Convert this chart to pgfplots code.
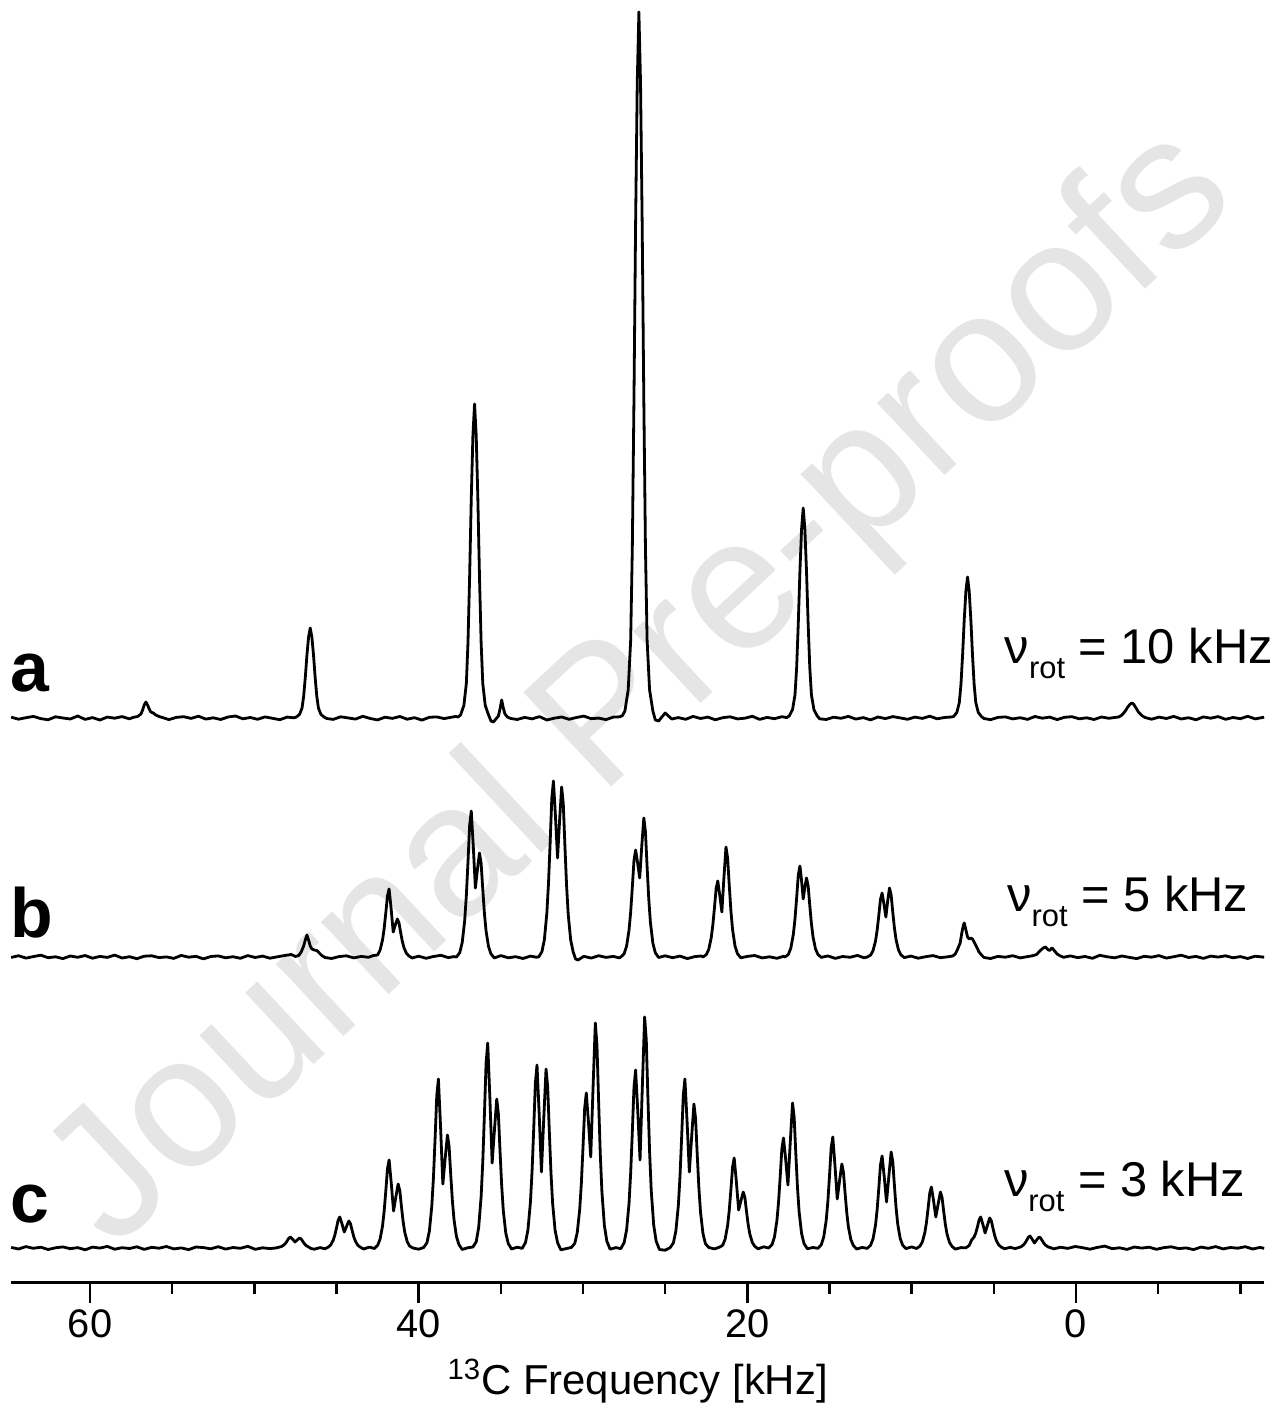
\documentclass[border=0pt]{standalone}
\usepackage{fontspec}
\setmainfont{Liberation Sans}
\usepackage{pgfplots}
\usepackage{pgfplotstable}
\pgfplotsset{compat=1.18}

% spectra: frequency [kHz], intensity (picture units above each trace's baseline)
\pgfplotstableread[row sep=\\]{
x y\\
64.8 0.8\\ 64.35 -1.2\\ 63.9 0.3\\ 63.45 1.6\\ 63.0 -0.6\\ 62.55 -1.8\\ 62.1 1.2\\ 61.65 0.0\\ 61.2 -1.0\\ 60.75 2.0\\
60.3 -1.4\\ 59.85 0.4\\ 59.4 -2.0\\ 58.95 0.9\\ 58.5 -0.2\\ 58.05 1.4\\ 57.6 -0.9\\
57.4 0.5\\ 57.1 1.5\\ 56.9 4\\ 56.8 8\\ 56.7 13\\ 56.6 16\\ 56.5 13\\ 56.4 9\\ 56.3 6\\ 56.15 5\\ 56.0 3\\ 55.8 1.5\\ 55.6 0.5\\
55.2 -1.6\\ 54.75 0.6\\ 54.3 1.3\\ 53.85 -0.4\\ 53.4 1.8\\ 52.95 -1.1\\ 52.5 0.2\\ 52.05 -1.5\\ 51.6 1.0\\ 51.15 2.0\\
50.7 -0.8\\ 50.25 0.5\\ 49.8 -1.3\\ 49.35 1.1\\ 48.9 -0.3\\ 48.45 -1.7\\ 48.0 0.9\\ 47.6 0.2\\
47.45 0.9\\ 47.25 3.6\\ 47.1 9.9\\ 47.0 21.6\\ 46.9 40.5\\ 46.8 63\\ 46.7 81\\ 46.6 90\\ 46.5 81\\ 46.4 63\\ 46.3 40.5\\ 46.2 21.6\\ 46.1 9.9\\ 45.95 3.6\\ 45.75 0.9\\ 45.6 -0.5\\
45.2 -1.4\\ 44.75 1.2\\ 44.3 0.1\\ 43.85 -1.1\\ 43.4 1.7\\ 42.95 -0.5\\ 42.5 -1.9\\ 42.05 0.8\\ 41.6 -0.4\\ 41.15 1.5\\
40.7 -1.2\\ 40.25 0.3\\ 39.8 -2.1\\ 39.35 0.7\\ 38.9 1.1\\ 38.45 -0.6\\ 38.0 0.8\\ 37.75 1.5\\
37.6 1\\ 37.45 3.1\\ 37.25 12.6\\ 37.1 34.5\\ 37.0 75.4\\ 36.9 141.3\\ 36.8 219.8\\ 36.7 282.6\\ 36.6 314\\ 36.5 282.6\\ 36.4 219.8\\ 36.3 141.3\\ 36.2 75.4\\ 36.1 34.5\\ 35.95 12.6\\ 35.75 3.1\\ 35.6 -3\\
35.45 -4\\ 35.3 -1\\ 35.15 2\\ 35.05 9\\ 34.95 18\\ 34.85 10\\ 34.75 4\\ 34.6 1\\ 34.4 -0.5\\
34.0 -1.5\\ 33.55 0.6\\ 33.1 -0.9\\ 32.65 1.4\\ 32.2 -2.0\\ 31.75 -0.2\\ 31.3 1.0\\ 30.85 -1.3\\ 30.4 0.5\\ 29.95 1.9\\
29.5 -0.7\\ 29.05 -0.1\\ 28.6 -1.6\\ 28.15 0.9\\ 27.75 1.2\\
27.6 2.5\\ 27.45 7.1\\ 27.25 28.2\\ 27.1 77.7\\ 27.0 169.4\\ 26.9 317.7\\ 26.8 494.2\\ 26.7 635.4\\ 26.6 706\\ 26.5 635.4\\ 26.4 494.2\\ 26.3 317.7\\ 26.2 169.4\\ 26.1 77.7\\ 25.95 28.2\\ 25.75 7.1\\
25.6 -2\\ 25.4 -3\\ 25.2 1\\ 25.0 5\\ 24.8 2\\ 24.6 -1\\
24.2 0.4\\ 23.75 -1.3\\ 23.3 1.6\\ 22.85 -0.5\\ 22.4 0.9\\ 21.95 -1.8\\ 21.5 0.3\\ 21.05 1.2\\ 20.6 -0.9\\ 20.15 -0.2\\
19.7 1.7\\ 19.25 -1.4\\ 18.8 0.6\\ 18.35 -0.7\\ 17.9 1.3\\ 17.6 0.4\\
17.45 2.1\\ 17.25 8.4\\ 17.1 23.1\\ 17.0 50.4\\ 16.9 94.5\\ 16.8 147\\ 16.7 189\\ 16.6 210\\ 16.5 189\\ 16.4 147\\ 16.3 94.5\\ 16.2 50.4\\ 16.1 23.1\\ 15.95 8.4\\ 15.75 2.1\\ 15.6 -0.8\\
15.2 -1.5\\ 14.75 0.8\\ 14.3 -0.3\\ 13.85 1.6\\ 13.4 -1.1\\ 12.95 0.4\\ 12.5 -1.9\\ 12.05 1.0\\ 11.6 -0.6\\ 11.15 1.4\\
10.7 0.1\\ 10.25 -1.3\\ 9.8 0.9\\ 9.35 -0.4\\ 8.9 1.8\\ 8.45 -0.8\\ 8.0 0.5\\ 7.6 1.0\\
7.45 1.4\\ 7.25 5.6\\ 7.1 15.5\\ 7.0 33.8\\ 6.9 63.5\\ 6.8 98.7\\ 6.7 126.9\\ 6.6 141\\ 6.5 126.9\\ 6.4 98.7\\ 6.3 63.5\\ 6.2 33.8\\ 6.1 15.5\\ 5.95 5.6\\ 5.75 1.4\\ 5.6 -0.5\\
5.2 -1.7\\ 4.75 0.6\\ 4.3 1.1\\ 3.85 -0.9\\ 3.4 0.3\\ 2.95 -1.4\\ 2.5 1.5\\ 2.05 -0.2\\ 1.6 0.9\\ 1.15 -1.6\\
0.7 0.7\\ 0.25 1.3\\ -0.2 -0.8\\ -0.65 0.2\\ -1.1 -1.5\\ -1.55 1.0\\ -2.0 -0.3\\ -2.4 0.6\\
-2.6 1\\ -2.8 3\\ -3.0 7\\ -3.15 11\\ -3.3 14\\ -3.4 15\\ -3.5 14\\ -3.65 10\\ -3.8 6\\ -4.0 2.5\\ -4.2 0.5\\
-4.6 -1.2\\ -5.05 0.9\\ -5.5 -0.5\\ -5.95 1.6\\ -6.4 -1.0\\ -6.85 0.3\\ -7.3 -1.8\\ -7.75 1.1\\ -8.2 -0.2\\ -8.65 1.4\\
-9.1 -1.3\\ -9.55 0.5\\ -10.0 -0.7\\ -10.45 1.7\\ -10.9 -0.9\\ -11.45 0.8\\
}\speca

\pgfplotstableread[row sep=\\]{
x y\\
64.8 -0.5\\ 64.35 1.3\\ 63.9 -1.1\\ 63.45 0.4\\ 63.0 1.8\\ 62.55 -0.7\\ 62.1 0.2\\ 61.65 -1.6\\ 61.2 1.0\\ 60.75 -0.3\\
60.3 1.5\\ 59.85 -1.2\\ 59.4 0.6\\ 58.95 -0.4\\ 58.5 1.9\\ 58.05 -1.0\\ 57.6 0.3\\ 57.15 -1.7\\ 56.7 0.8\\ 56.25 1.2\\
55.8 -0.6\\ 55.35 0.1\\ 54.9 -1.4\\ 54.45 1.6\\ 54.0 -0.2\\ 53.55 0.7\\ 53.1 -1.9\\ 52.65 0.5\\ 52.2 1.1\\ 51.75 -0.8\\
51.3 0.3\\ 50.85 -1.3\\ 50.4 1.4\\ 49.95 -0.5\\ 49.5 0.9\\ 49.05 -1.2\\ 48.6 0.2\\ 48.15 1.5\\ 47.75 2.5\\
47.5 0.5\\ 47.3 1.5\\ 47.15 5\\ 47.0 11\\ 46.9 17\\ 46.8 22\\ 46.7 17\\ 46.6 11\\ 46.5 8\\ 46.35 7\\ 46.2 6.5\\ 46.05 4\\ 45.9 1.5\\ 45.7 -0.5\\
45.3 -1.5\\ 44.85 0.4\\ 44.4 1.2\\ 43.95 -0.9\\ 43.5 0.6\\ 43.05 -0.3\\ 42.75 1.5\\
42.5 2\\ 42.35 6.8\\ 42.2 17\\ 42.1 28.6\\ 42.0 44.2\\ 41.9 61.2\\ 41.8 68\\ 41.68 48.7\\ 41.55 25\\ 41.42 32.2\\ 41.3 38\\ 41.2 34.2\\ 41.1 24.7\\ 41.0 16\\ 40.9 9.5\\ 40.75 3.8\\ 40.6 1.1\\ 40.4 -1\\
40.0 0.8\\ 39.55 -1.3\\ 39.1 0.5\\ 38.65 1.7\\ 38.2 -0.6\\ 37.85 0.4\\
37.7 0\\ 37.5 4.4\\ 37.35 14.6\\ 37.2 36.5\\ 37.1 61.3\\ 37.0 94.9\\ 36.9 131.4\\ 36.8 146\\ 36.68 111.4\\ 36.55 69\\ 36.42 88.3\\ 36.3 104\\ 36.2 93.6\\ 36.1 67.6\\ 36.0 43.7\\ 35.9 26\\ 35.75 10.4\\ 35.6 3.1\\ 35.4 -1\\
35.0 1.4\\ 34.55 -0.8\\ 34.1 0.3\\ 33.65 -1.5\\ 33.2 0.9\\ 32.85 -0.2\\
32.7 0\\ 32.5 5.3\\ 32.35 17.6\\ 32.2 44\\ 32.1 73.9\\ 32.0 114.4\\ 31.9 158.4\\ 31.8 176\\ 31.68 141.4\\ 31.55 99\\ 31.42 138\\ 31.3 170\\ 31.2 153\\ 31.1 110.5\\ 31.0 71.4\\ 30.9 42.5\\ 30.75 17\\ 30.6 5.1\\ 30.45 -2\\ 30.3 -3\\
29.95 0.7\\ 29.5 -1.1\\ 29.05 1.3\\ 28.6 -0.4\\ 28.15 0.6\\ 27.8 -0.9\\
27.7 0\\ 27.5 3.2\\ 27.35 10.7\\ 27.2 26.8\\ 27.1 44.9\\ 27.0 69.6\\ 26.9 96.3\\ 26.8 107\\ 26.68 94.4\\ 26.55 79\\ 26.42 112\\ 26.3 139\\ 26.2 125\\ 26.1 90.4\\ 26.0 58.4\\ 25.9 34.8\\ 25.75 13.9\\ 25.6 4.2\\ 25.4 -0.5\\
25.0 1.2\\ 24.55 -0.7\\ 24.1 0.9\\ 23.65 -1.6\\ 23.2 0.4\\ 22.8 1.0\\
22.7 0\\ 22.5 2.3\\ 22.35 7.6\\ 22.2 19\\ 22.1 31.9\\ 22.0 49.4\\ 21.9 68.4\\ 21.8 76\\ 21.68 62\\ 21.55 45\\ 21.42 80.8\\ 21.3 110\\ 21.2 99\\ 21.1 71.5\\ 21.0 46.2\\ 20.9 27.5\\ 20.75 11\\ 20.6 3.3\\ 20.4 -0.8\\
20.0 0.6\\ 19.55 1.5\\ 19.1 -0.9\\ 18.65 0.2\\ 18.2 -1.3\\ 17.8 0.7\\
17.7 0\\ 17.5 2.7\\ 17.35 9.1\\ 17.2 22.8\\ 17.1 38.2\\ 17.0 59.2\\ 16.9 81.9\\ 16.8 91\\ 16.7 76.2\\ 16.6 58\\ 16.5 69.6\\ 16.4 79\\ 16.3 71.1\\ 16.2 51.4\\ 16.1 33.2\\ 16.0 19.8\\ 15.85 7.9\\ 15.7 2.4\\ 15.5 -0.4\\
15.1 1.1\\ 14.65 -1.4\\ 14.2 0.5\\ 13.75 -0.3\\ 13.3 1.6\\ 12.9 -0.8\\
12.7 0\\ 12.5 1.9\\ 12.35 6.4\\ 12.2 16\\ 12.1 26.9\\ 12.0 41.6\\ 11.9 57.6\\ 11.8 64\\ 11.69 53.2\\ 11.57 40\\ 11.46 56\\ 11.35 69\\ 11.25 62.1\\ 11.15 44.9\\ 11.05 29\\ 10.95 17.3\\ 10.8 6.9\\ 10.65 2.1\\ 10.45 -0.6\\
10.05 0.9\\ 9.6 -1.2\\ 9.15 0.3\\ 8.7 1.4\\ 8.25 -0.7\\ 7.8 0.2\\
7.5 1\\ 7.35 3\\ 7.2 8\\ 7.05 14\\ 6.95 24\\ 6.85 32\\ 6.8 34\\ 6.7 27\\ 6.6 20\\ 6.5 18\\ 6.4 19\\ 6.3 18\\ 6.2 15\\ 6.05 10\\ 5.9 5\\ 5.75 2\\ 5.6 -0.5\\
5.2 -1.5\\ 4.75 0.6\\ 4.3 -0.2\\ 3.85 1.3\\ 3.4 -0.9\\ 2.95 0.4\\ 2.65 1.2\\
2.4 2.5\\ 2.2 6\\ 2.0 9\\ 1.85 10\\ 1.72 7.5\\ 1.6 6.5\\ 1.5 8.5\\ 1.45 9\\ 1.3 6\\ 1.15 3\\ 0.95 1\\ 0.75 -0.3\\
0.35 1.1\\ -0.1 -0.6\\ -0.55 0.5\\ -1.0 -1.3\\ -1.45 1.7\\ -1.9 0.2\\ -2.35 -0.8\\ -2.8 1.0\\ -3.25 -0.4\\ -3.7 -1.6\\
-4.15 0.7\\ -4.6 -0.2\\ -5.05 1.4\\ -5.5 -1.1\\ -5.95 0.3\\ -6.4 1.8\\ -6.85 -0.5\\ -7.3 0.6\\ -7.75 -1.4\\ -8.2 0.9\\
-8.65 -0.1\\ -9.1 1.2\\ -9.55 -0.8\\ -10.0 0.4\\ -10.45 -1.5\\ -10.9 0.8\\ -11.45 -0.2\\
}\specb

\pgfplotstableread[row sep=\\]{
x y\\
64.8 0.6\\ 64.35 -1.0\\ 63.9 1.4\\ 63.45 -0.3\\ 63.0 0.8\\ 62.55 -1.5\\ 62.1 0.2\\ 61.65 1.1\\ 61.2 -0.7\\ 60.75 0.4\\
60.3 -1.8\\ 59.85 0.9\\ 59.4 -0.1\\ 58.95 1.6\\ 58.5 -1.2\\ 58.05 0.3\\ 57.6 -0.5\\ 57.15 1.2\\ 56.7 -1.4\\ 56.25 0.7\\
55.8 -0.2\\ 55.35 1.5\\ 54.9 -0.9\\ 54.45 0.1\\ 54.0 -1.6\\ 53.55 1.0\\ 53.1 0.4\\ 52.65 -0.8\\ 52.2 1.3\\ 51.75 -1.1\\
51.3 0.5\\ 50.85 -0.3\\ 50.4 1.7\\ 49.95 -1.3\\ 49.5 0.2\\ 49.05 -0.6\\
48.7 0\\ 48.5 0.8\\ 48.35 1.5\\ 48.2 3\\ 48.1 4.6\\ 48.0 7.2\\ 47.9 9.9\\ 47.8 11\\ 47.67 8.8\\ 47.53 6\\ 47.38 8.2\\ 47.25 10\\ 47.15 9\\ 47.05 6.5\\ 46.95 4.2\\ 46.85 2.5\\ 46.7 1\\ 46.55 -0.5\\ 46.35 -1.2\\
46.0 0.4\\
45.7 -0.8\\ 45.5 0.9\\ 45.35 3.1\\ 45.2 7.8\\ 45.1 13\\ 45.0 20.2\\ 44.9 27.9\\ 44.8 31\\ 44.67 24.3\\ 44.53 16\\ 44.38 22.1\\ 44.25 27\\ 44.15 24.3\\ 44.05 17.6\\ 43.95 11.3\\ 43.85 6.8\\ 43.7 2.7\\ 43.55 0.8\\ 43.35 -1\\
43.0 0.9\\
42.7 -0.5\\ 42.5 2.6\\ 42.35 8.8\\ 42.2 22\\ 42.1 37\\ 42.0 57.2\\ 41.9 79.2\\ 41.8 88\\ 41.67 65.1\\ 41.53 37\\ 41.38 51.9\\ 41.25 64\\ 41.15 57.6\\ 41.05 41.6\\ 40.95 26.9\\ 40.85 16\\ 40.7 6.4\\ 40.55 1.9\\ 40.35 0\\
40.0 -1.2\\
39.7 0.5\\ 39.5 5.1\\ 39.35 16.9\\ 39.2 42.3\\ 39.1 71\\ 39.0 109.9\\ 38.9 152.1\\ 38.8 169\\ 38.67 121.8\\ 38.53 64\\ 38.38 91\\ 38.25 113\\ 38.15 101.7\\ 38.05 73.5\\ 37.95 47.5\\ 37.85 28.3\\ 37.7 11.3\\ 37.55 3.4\\ 37.35 -1.5\\
37.0 0.3\\
36.7 1.0\\ 36.5 6.2\\ 36.35 20.5\\ 36.2 51.3\\ 36.1 86.1\\ 36.0 133.3\\ 35.9 184.5\\ 35.8 205\\ 35.67 151\\ 35.53 85\\ 35.38 120.2\\ 35.25 149\\ 35.15 134.1\\ 35.05 96.9\\ 34.95 62.6\\ 34.85 37.3\\ 34.7 14.9\\ 34.55 4.5\\ 34.35 -1\\
34.0 0.8\\
33.7 -0.4\\ 33.5 5.5\\ 33.35 18.3\\ 33.2 45.8\\ 33.1 76.9\\ 33.0 119\\ 32.9 164.7\\ 32.8 183\\ 32.67 134.9\\ 32.53 76\\ 32.38 132.7\\ 32.25 179\\ 32.15 161.1\\ 32.05 116.4\\ 31.95 75.2\\ 31.85 44.8\\ 31.7 17.9\\ 31.55 5.4\\ 31.35 -1.8\\
31.0 -0.5\\
30.7 0.6\\ 30.5 4.7\\ 30.35 15.5\\ 30.2 38.8\\ 30.1 65.1\\ 30.0 100.8\\ 29.9 139.5\\ 29.8 155\\ 29.67 126.2\\ 29.53 91\\ 29.38 164.7\\ 29.25 225\\ 29.15 202.5\\ 29.05 146.3\\ 28.95 94.5\\ 28.85 56.3\\ 28.7 22.5\\ 28.55 6.8\\ 28.35 -1.2\\
28.0 0.4\\
27.7 -0.6\\ 27.5 5.3\\ 27.35 17.8\\ 27.2 44.5\\ 27.1 74.8\\ 27.0 115.7\\ 26.9 160.2\\ 26.8 178\\ 26.67 137.5\\ 26.53 88\\ 26.38 166.7\\ 26.25 231\\ 26.15 207.9\\ 26.05 150.2\\ 25.95 97\\ 25.85 57.8\\ 25.7 23.1\\ 25.55 6.9\\ 25.35 -1.5\\
25.0 -2.2\\
24.7 0.3\\ 24.5 5.1\\ 24.35 16.9\\ 24.2 42.3\\ 24.1 71\\ 24.0 109.9\\ 23.9 152.1\\ 23.8 169\\ 23.67 127.2\\ 23.53 76\\ 23.38 113.4\\ 23.25 144\\ 23.15 129.6\\ 23.05 93.6\\ 22.95 60.5\\ 22.85 36\\ 22.7 14.4\\ 22.55 4.3\\ 22.35 0.5\\
22.0 -0.9\\
21.7 0.8\\ 21.5 2.7\\ 21.35 9\\ 21.2 22.5\\ 21.1 37.8\\ 21.0 58.5\\ 20.9 81\\ 20.8 90\\ 20.67 66.6\\ 20.53 38\\ 20.38 47.9\\ 20.25 56\\ 20.15 50.4\\ 20.05 36.4\\ 19.95 23.5\\ 19.85 14\\ 19.7 5.6\\ 19.55 1.7\\ 19.35 -0.8\\
19.0 1.2\\
18.7 0\\ 18.5 3.3\\ 18.35 11\\ 18.2 27.5\\ 18.1 46.2\\ 18.0 71.5\\ 17.9 99\\ 17.8 110\\ 17.67 88.9\\ 17.53 63\\ 17.38 108.1\\ 17.25 145\\ 17.15 130.5\\ 17.05 94.3\\ 16.95 60.9\\ 16.85 36.3\\ 16.7 14.5\\ 16.55 4.4\\ 16.35 -0.7\\
16.0 0.5\\
15.7 -0.3\\ 15.5 3.3\\ 15.35 11.1\\ 15.2 27.8\\ 15.1 46.6\\ 15.0 72.2\\ 14.9 99.9\\ 14.8 111\\ 14.67 83.1\\ 14.53 49\\ 14.38 68.3\\ 14.25 84\\ 14.15 75.6\\ 14.05 54.6\\ 13.95 35.3\\ 13.85 21\\ 13.7 8.4\\ 13.55 2.5\\ 13.35 -1\\
13.0 0.6\\
12.7 -0.4\\ 12.5 2.8\\ 12.35 9.2\\ 12.2 23\\ 12.1 38.6\\ 12.0 59.8\\ 11.9 82.8\\ 11.8 92\\ 11.67 71.3\\ 11.53 46\\ 11.38 73.5\\ 11.25 96\\ 11.15 86.4\\ 11.05 62.4\\ 10.95 40.3\\ 10.85 24\\ 10.7 9.6\\ 10.55 2.9\\ 10.35 -0.6\\
10.0 1.1\\
9.7 -0.5\\ 9.5 1.8\\ 9.35 6.1\\ 9.2 15.3\\ 9.1 25.6\\ 9.0 39.7\\ 8.9 54.9\\ 8.8 61\\ 8.67 47.5\\ 8.53 31\\ 8.38 44.8\\ 8.25 56\\ 8.15 50.4\\ 8.05 36.4\\ 7.95 23.5\\ 7.85 14\\ 7.7 5.6\\ 7.55 1.7\\ 7.35 -1.1\\
7.0 0.4\\
6.7 0.2\\ 6.5 2.5\\ 6.35 8\\ 6.2 11\\ 6.1 15\\ 6.0 21\\ 5.9 27.9\\ 5.8 31\\ 5.67 23.8\\ 5.53 15\\ 5.38 23.3\\ 5.25 30\\ 5.15 27\\ 5.05 19.5\\ 4.95 12.6\\ 4.85 7.5\\ 4.7 3\\ 4.55 0.9\\ 4.35 -0.8\\
4.0 0.7\\
3.7 -0.6\\ 3.5 0.4\\ 3.35 1.2\\ 3.2 3\\ 3.1 5\\ 3.0 7.8\\ 2.9 10.8\\ 2.8 12\\ 2.67 8.9\\ 2.53 5\\ 2.38 8.3\\ 2.25 11\\ 2.15 9.9\\ 2.05 7.2\\ 1.95 4.6\\ 1.85 2.8\\ 1.7 1.1\\ 1.55 0.3\\ 1.35 -0.9\\
0.95 0.8\\ 0.5 -0.4\\ 0.05 1.5\\ -0.4 0.3\\ -0.85 -1.2\\ -1.3 0.6\\ -1.75 1.9\\ -2.2 -0.7\\ -2.65 0.2\\ -3.1 -1.4\\
-3.55 1.0\\ -4.0 -0.1\\ -4.45 0.8\\ -4.9 -1.3\\ -5.35 0.4\\ -5.8 1.2\\ -6.25 -0.6\\ -6.7 0.1\\ -7.15 -1.6\\ -7.6 0.9\\
-8.05 -0.3\\ -8.5 1.4\\ -8.95 -0.9\\ -9.4 0.5\\ -9.85 -0.2\\ -10.3 1.3\\ -10.75 -1.0\\ -11.2 0.6\\ -11.45 -0.4\\
}\specc

\begin{document}
\begin{tikzpicture}
\begin{axis}[
    scale only axis,
    width=626.75bp, height=641.35bp,
    xmin=-11.47, xmax=64.81, x dir=reverse,
    ymin=0, ymax=1282.7,
    axis x line=bottom, axis y line=none,
    x axis line style={-, line width=1.3bp},
    xtick={0,20,40,60},
    minor xtick={-10,-5,5,10,15,25,30,35,45,50,55},
    tick align=outside,
    major tick length=10bp, minor tick length=5.5bp,
    every tick/.style={black, line width=1.2bp},
    /pgf/number format/assume math mode=true,
    xticklabel style={font=\fontsize{20}{23}\selectfont},
    xlabel={\textsuperscript{13}C Frequency [kHz]},
    xlabel style={font=\fontsize{21}{25}\selectfont, at={(axis description cs:0.5,0)}, anchor=base, yshift=-56bp},
    clip=false,
]
\node[rotate=43, text=black!10, font=\fontsize{94}{100}\selectfont, inner sep=0] at (axis cs:26.3,592) {Journal Pre-proofs};

\addplot[black, line width=1.4bp, line join=round] table[x=x, y expr=\thisrow{y}+564.7] {\speca};
\addplot[black, line width=1.4bp, line join=round] table[x=x, y expr=\thisrow{y}+325.7] {\specb};
\addplot[black, line width=1.4bp, line join=round] table[x=x, y expr=\thisrow{y}+34.7] {\specc};

\node[anchor=base west, inner sep=0, font=\fontsize{35}{40}\selectfont\bfseries] at (axis cs:64.88,590.7) {a};
\node[anchor=base west, inner sep=0, font=\fontsize{35}{40}\selectfont\bfseries] at (axis cs:64.88,344.7) {b};
\node[anchor=base west, inner sep=0, font=\fontsize{35}{40}\selectfont\bfseries] at (axis cs:64.88,60.7) {c};

\node[anchor=base east, inner sep=0, font=\fontsize{24.5}{28}\selectfont] at (axis cs:-12.0,619.2) {ν\raisebox{-0.3em}{\fontsize{15.5}{16}\selectfont rot} = 10 kHz};
\node[anchor=base east, inner sep=0, font=\fontsize{24.5}{28}\selectfont] at (axis cs:-10.5,371) {ν\raisebox{-0.3em}{\fontsize{15.5}{16}\selectfont rot} = 5 kHz};
\node[anchor=base east, inner sep=0, font=\fontsize{24.5}{28}\selectfont] at (axis cs:-10.3,86) {ν\raisebox{-0.3em}{\fontsize{15.5}{16}\selectfont rot} = 3 kHz};
\end{axis}
\pgfresetboundingbox
\path[use as bounding box] ([xshift=-5.5bp,yshift=-65.15bp]current axis.south west) rectangle ([xshift=6.75bp]current axis.north east);
\end{tikzpicture}
\end{document}
